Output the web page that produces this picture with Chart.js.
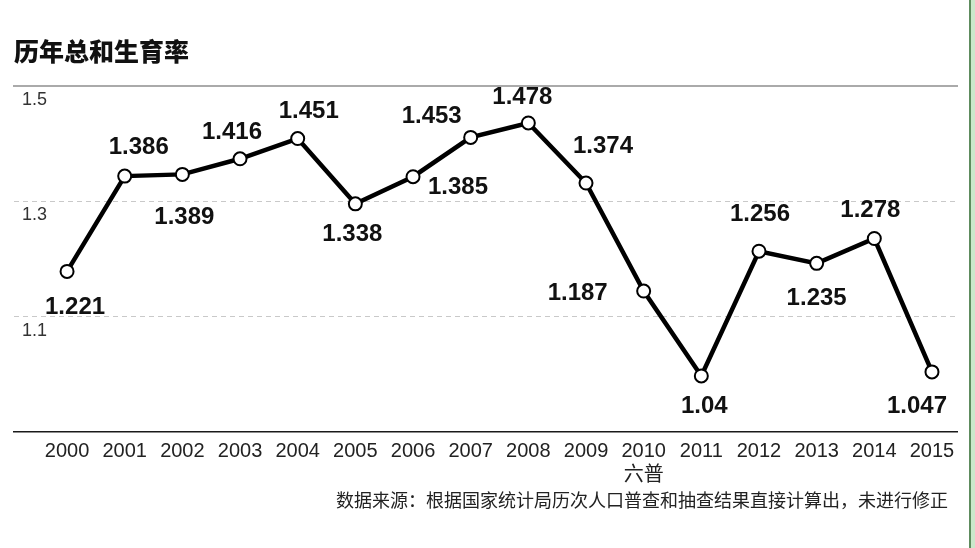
<!DOCTYPE html>
<html>
<head>
<meta charset="utf-8">
<title>历年总和生育率</title>
<script src="https://cdn.jsdelivr.net/npm/chart.js@4.4.1/dist/chart.umd.min.js"></script>
<style>
  html, body { margin: 0; padding: 0; background: #fff; }
  #wrap { position: relative; width: 975px; height: 548px; }
  #edge { position: absolute; left: 969px; top: 0; width: 4px; height: 548px;
          border-left: 2px solid #5e8c5e; background: #cbe8cb; }
</style>
</head>
<body>
<div id="wrap">
  <canvas id="myChart" width="975" height="548"></canvas>
  <div id="edge"></div>
</div>
<script>
// data
var years = [2000, 2001, 2002, 2003, 2004, 2005, 2006, 2007, 2008, 2009, 2010, 2011, 2012, 2013, 2014, 2015];
var tfr = [1.221, 1.386, 1.389, 1.416, 1.451, 1.338, 1.385, 1.453, 1.478, 1.374, 1.187, 1.04, 1.256, 1.235, 1.278, 1.047];
var yTicks = [1.1, 1.3, 1.5];
var yearNotes = { 2010: "六普" };

var titleText = "历年总和生育率";
var sourceText = "数据来源：根据国家统计局历次人口普查和抽查结果直接计算出，未进行修正";

// where each value label sits relative to its point (dx, dy)
var labelShift = [
  [8, 36], [14, -29], [2, 43], [-8, -26], [11, -27], [-3, 31], [45, 11], [-39, -21],
  [-6, -26], [17, -37], [-66, 2], [3, 30], [1, -37], [0, 35], [-4, -28], [-15, 34]
];

var points = years.map(function (y, i) {
  return { x: y, y: tfr[i] };
});

var valueLabels = {
  id: "valueLabels",
  afterDatasetsDraw: function (chart) {
    var ctx = chart.ctx;
    var meta = chart.getDatasetMeta(0);
    ctx.save();
    ctx.font = "bold 24px 'Liberation Sans', Arial, sans-serif";
    ctx.fillStyle = "#111";
    ctx.textAlign = "center";
    ctx.textBaseline = "middle";
    meta.data.forEach(function (pt, i) {
      ctx.fillText(String(tfr[i]), pt.x + labelShift[i][0], pt.y + labelShift[i][1]);
    });
    ctx.restore();
  }
};

var texts = {
  id: "texts",
  afterDraw: function (chart) {
    var ctx = chart.ctx;
    ctx.save();
    ctx.fillStyle = "#111";
    ctx.textBaseline = "middle";
    ctx.textAlign = "left";
    ctx.font = "900 25px 'Noto Sans CJK SC', sans-serif";
    ctx.fillText(titleText, 14, 51);
    ctx.fillStyle = "#222";
    ctx.textAlign = "right";
    ctx.font = "18px 'Noto Sans CJK SC', sans-serif";
    ctx.fillText(sourceText, 948, 500);
    ctx.restore();
  }
};

var ctx = document.getElementById("myChart").getContext("2d");
var myChart = new Chart(ctx, {
  type: "line",
  data: {
    datasets: [
      {
        label: "总和生育率",
        data: points,
        yAxisID: "yData",
        borderColor: "#000",
        borderWidth: 4.5,
        fill: false,
        tension: 0,
        pointRadius: 6.5,
        pointBorderWidth: 2,
        pointBorderColor: "#000",
        pointBackgroundColor: "#fff",
      },
    ],
  },
  options: {
    responsive: false,
    animation: false,
    layout: { padding: { top: 86, left: 6, right: 18, bottom: 61 } },
    plugins: {
      legend: { display: false },
      tooltip: { enabled: false },
      title: { display: false },
    },
    scales: {
      x: {
        type: "linear",
        position: "bottom",
        min: 1999.08,
        max: 2015.434,
        afterBuildTicks: function (axis) {
          axis.ticks = years.map(function (y) { return { value: y }; });
        },
        afterFit: function (axis) { axis.height = 55; },
        grid: { display: false, drawTicks: false },
        border: { display: true, color: "#1a1a1a", width: 1.5 },
        ticks: {
          autoSkip: false,
          maxRotation: 0,
          padding: 7,
          color: "#222",
          font: { family: "'Liberation Sans', Arial, 'Noto Sans CJK SC', sans-serif", size: 20 },
          callback: function (value) {
            if (yearNotes[value]) return [String(value), yearNotes[value]];
            return String(value);
          },
        },
      },
      xTop: {
        type: "linear",
        position: "top",
        min: 0,
        max: 1,
        afterFit: function (axis) { axis.height = 0; },
        grid: { display: false, drawTicks: false },
        border: { display: true, color: "#aaaaaa", width: 2 },
        ticks: { display: false },
      },
      y: {
        type: "linear",
        position: "left",
        min: 0.9,
        max: 1.5,
        afterBuildTicks: function (axis) {
          axis.ticks = yTicks.map(function (v) { return { value: v }; });
        },
        afterFit: function (axis) { axis.width = 8; },
        grid: {
          drawTicks: false,
          lineWidth: 1,
          color: function (c) {
            return c.tick && c.tick.value < 1.45 ? "#c9c9c9" : "rgba(0,0,0,0)";
          },
        },
        border: { display: false, dash: [5, 4] },
        ticks: {
          mirror: true,
          padding: 8,
          labelOffset: 14,
          color: "#333",
          font: { family: "'Liberation Sans', Arial, sans-serif", size: 18 },
          callback: function (value) { return value.toFixed(1); },
        },
      },
      yData: {
        type: "linear",
        display: false,
        min: 0.943,
        max: 1.542,
      },
    },
  },
  plugins: [valueLabels, texts],
});
</script>
</body>
</html>
